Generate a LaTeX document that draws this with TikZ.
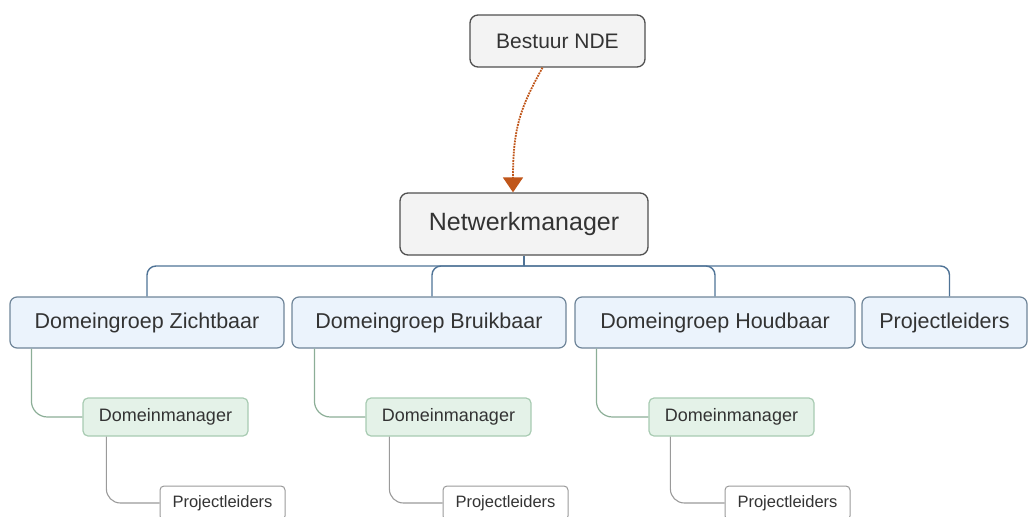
\documentclass[tikz,border=0pt]{standalone}
\usepackage{fontspec}
\setmainfont{Liberation Sans}
\usetikzlibrary{arrows.meta}
\definecolor{txt}{HTML}{333333}
\definecolor{topfill}{HTML}{F3F3F3}
\definecolor{topline}{HTML}{505050}
\definecolor{grpfill}{HTML}{EBF3FC}
\definecolor{grpline}{HTML}{6F8599}
\definecolor{dmfill}{HTML}{E4F2E8}
\definecolor{dmline}{HTML}{A8CBB2}
\definecolor{plline}{HTML}{9A9A9A}
\definecolor{hubline}{HTML}{4F7396}
\definecolor{dmlink}{HTML}{8CAE97}
\definecolor{brown}{HTML}{C0561A}
\begin{document}
\begin{tikzpicture}[x=1pt,y=-1pt,
  topbox/.style={draw=topline,fill=topfill,rounded corners=8pt,line width=1.3pt,
    text=txt,inner sep=0pt,minimum height=52pt},
  grpbox/.style={draw=grpline,fill=grpfill,rounded corners=7pt,line width=1.2pt,
    text=txt,inner sep=0pt,minimum height=51pt,font=\fontsize{21.5}{26}\selectfont},
  dmbox/.style={draw=dmline,fill=dmfill,rounded corners=5pt,line width=1.2pt,
    text=txt,inner sep=0pt,minimum width=165pt,minimum height=38pt,font=\fontsize{18}{22}\selectfont},
  plbox/.style={draw=plline,fill=white,rounded corners=4pt,line width=1pt,
    text=txt,inner sep=0pt,minimum width=125pt,minimum height=34pt,font=\fontsize{16.5}{20}\selectfont},
  hub/.style={draw=hubline,line width=1.4pt,rounded corners=9pt},
  dmlink/.style={draw=dmlink,line width=1.2pt,rounded corners=16pt},
  pllink/.style={draw=plline,line width=1.1pt,rounded corners=14pt}]
\useasboundingbox (0,0) rectangle (1029,517);

% top
\node[topbox,minimum width=175pt,font=\fontsize{21}{26}\selectfont] (bestuur) at (557.5,41) {Bestuur NDE};
\node[topbox,minimum width=248pt,minimum height=62pt,font=\fontsize{25}{30}\selectfont] (netwerk) at (524,224) {Netwerkmanager};

\draw[brown,line width=1.8pt,densely dotted,-{Triangle[width=20pt,length=15pt]}]
  ([xshift=-15pt]bestuur.south) .. controls +(-22,40) and +(0,-65) .. ([xshift=-11pt]netwerk.north);

% domeingroepen
\node[grpbox,minimum width=274pt] (zicht) at (147,322.5) {Domeingroep Zichtbaar};
\node[grpbox,minimum width=274pt] (bruik) at (429,322.5) {Domeingroep Bruikbaar};
\node[grpbox,minimum width=280pt] (houd) at (715,322.5) {Domeingroep Houdbaar};
\node[grpbox,minimum width=165pt] (proj) at (944.5,322.5) {Projectleiders};

\coordinate (split) at (524,266);
\draw[hub] (netwerk.south) -- (split);
\draw[hub] (split) -| (zicht.north);
\draw[hub] (split) -| ([xshift=3pt]bruik.north);
\draw[hub] (split) -| (houd.north);
\draw[hub] (split) -| ([xshift=5pt]proj.north);

% domeinmanagers
\node[dmbox] (dmz) at (165.5,417) {Domeinmanager};
\node[dmbox] (dmb) at (448.5,417) {Domeinmanager};
\node[dmbox] (dmh) at (731.5,417) {Domeinmanager};

\draw[dmlink] ([xshift=22pt]zicht.south west) |- (dmz.west);
\draw[dmlink] ([xshift=23pt]bruik.south west) |- (dmb.west);
\draw[dmlink] ([xshift=22pt]houd.south west) |- (dmh.west);

% projectleiders
\node[plbox] (plz) at (222.5,503) {Projectleiders};
\node[plbox] (plb) at (505.5,503) {Projectleiders};
\node[plbox] (plh) at (787.5,503) {Projectleiders};

\draw[pllink] ([xshift=24pt]dmz.south west) |- (plz.west);
\draw[pllink] ([xshift=24pt]dmb.south west) |- (plb.west);
\draw[pllink] ([xshift=22pt]dmh.south west) |- (plh.west);
\end{tikzpicture}
\end{document}
